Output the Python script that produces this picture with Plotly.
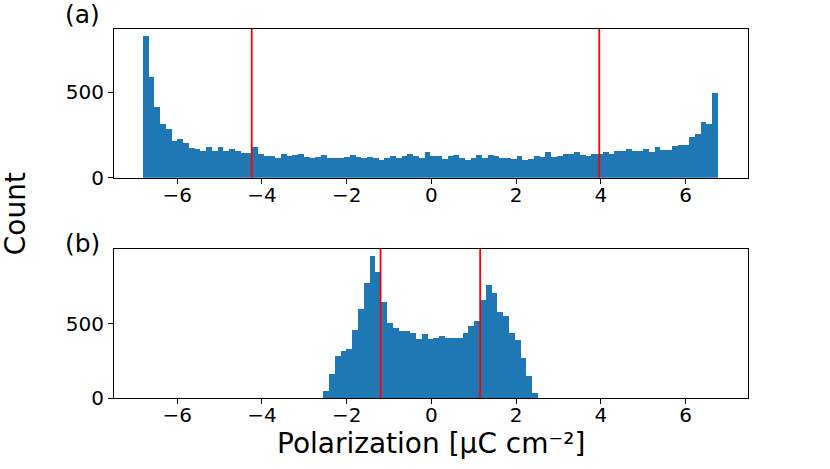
import numpy as np
import plotly.graph_objects as go

# (a) histogram, 100 equal bins
top_range = (-6.81, 6.76)
top_counts = [
    830, 590, 416, 312, 283, 217, 227, 201, 174, 168,
    158, 180, 156, 180, 158, 166, 156, 143, 143, 180,
    141, 127, 127, 113, 141, 127, 133, 141, 121, 113,
    121, 133, 113, 113, 113, 121, 133, 121, 113, 121,
    113, 103, 113, 127, 113, 127, 141, 127, 113, 148,
    125, 125, 109, 125, 133, 117, 101, 117, 133, 117,
    133, 125, 117, 117, 109, 125, 101, 109, 125, 121,
    148, 121, 125, 140, 139, 148, 133, 125, 140, 140,
    148, 140, 156, 156, 170, 156, 156, 170, 148, 178,
    162, 162, 185, 193, 193, 238, 254, 328, 314, 494,
]
top_lines = [-4.24, 3.96]

# (b) histogram, 37 equal bins
bottom_range = (-2.555, 2.515)
bottom_counts = [
    52, 168, 287, 320, 332, 459, 605, 775, 959, 853,
    647, 511, 477, 452, 452, 443, 399, 432, 401, 405,
    423, 405, 405, 405, 439, 490, 522, 665, 762, 708,
    582, 553, 443, 394, 271, 148, 36,
]
bottom_lines = [-1.20, 1.15]

x_ticks = [-6, -4, -2, 0, 2, 4, 6]
x_labels = ["−6", "−4", "−2", "0", "2", "4", "6"]
y_ticks = [0, 500]

BLUE = "#1f77b4"
FONT = "DejaVu Sans"


def bins(rng, counts):
    edges = np.linspace(rng[0], rng[1], len(counts) + 1)
    return (edges[:-1] + edges[1:]) / 2, edges[1] - edges[0]


fig = go.Figure()
for rng, counts, ax in [(top_range, top_counts, ""), (bottom_range, bottom_counts, "2")]:
    centers, w = bins(rng, counts)
    fig.add_trace(go.Bar(x=centers, y=counts, width=w, marker_color=BLUE,
                         marker_line_width=0, xaxis="x" + ax, yaxis="y" + ax,
                         showlegend=False))

axis_style = dict(showline=True, mirror=True, linecolor="black", linewidth=1,
                  ticks="outside", ticklen=5, tickwidth=1, tickcolor="black",
                  showgrid=False, zeroline=False,
                  tickfont=dict(family=FONT, size=20, color="black"))
xstyle = dict(axis_style, ticklabelstandoff=-6)

fig.update_layout(
    width=830, height=469,
    margin=dict(l=114, r=82, t=29, b=71),
    paper_bgcolor="white", plot_bgcolor="white",
    bargap=0,
    xaxis=dict(domain=[0, 1], anchor="y", range=[-7.49, 7.47],
               tickvals=x_ticks, ticktext=x_labels, **xstyle),
    yaxis=dict(domain=[0.597, 1], anchor="x", range=[0, 1.05 * max(top_counts)],
               tickvals=y_ticks, **axis_style),
    xaxis2=dict(domain=[0, 1], anchor="y2", range=[-7.49, 7.47],
                tickvals=x_ticks, ticktext=x_labels, **xstyle),
    yaxis2=dict(domain=[0, 0.405], anchor="x2", range=[0, 1.05 * max(bottom_counts)],
                tickvals=y_ticks, **axis_style),
)

for xs, ax in [(top_lines, ""), (bottom_lines, "2")]:
    for xv in xs:
        fig.add_shape(type="line", xref="x" + ax, yref=("y" + ax) + " domain",
                      x0=xv, x1=xv, y0=0, y1=1,
                      line=dict(color="red", width=1.8))

label_font = dict(family=FONT, size=28, color="black")
panel_font = dict(family=FONT, size=25, color="black")
centered = dict(xref="paper", yref="paper", showarrow=False,
                xanchor="center", yanchor="middle")
fig.add_annotation(text="Count", x=-0.155, y=0.5, textangle=-90,
                   font=label_font, **centered)
fig.add_annotation(text="Polarization [μC cm⁻²]", x=0.5, y=-0.122,
                   font=label_font, **centered)
fig.add_annotation(text="(a)", x=-0.05, y=1.038, font=panel_font, **centered)
fig.add_annotation(text="(b)", x=-0.05, y=0.42, font=panel_font, **centered)

# page body has a default 8px margin; drop it so the figure sits at the corner
fig.write_html("out.html", config={"displayModeBar": False},
               post_script="document.body.style.margin='0';")
